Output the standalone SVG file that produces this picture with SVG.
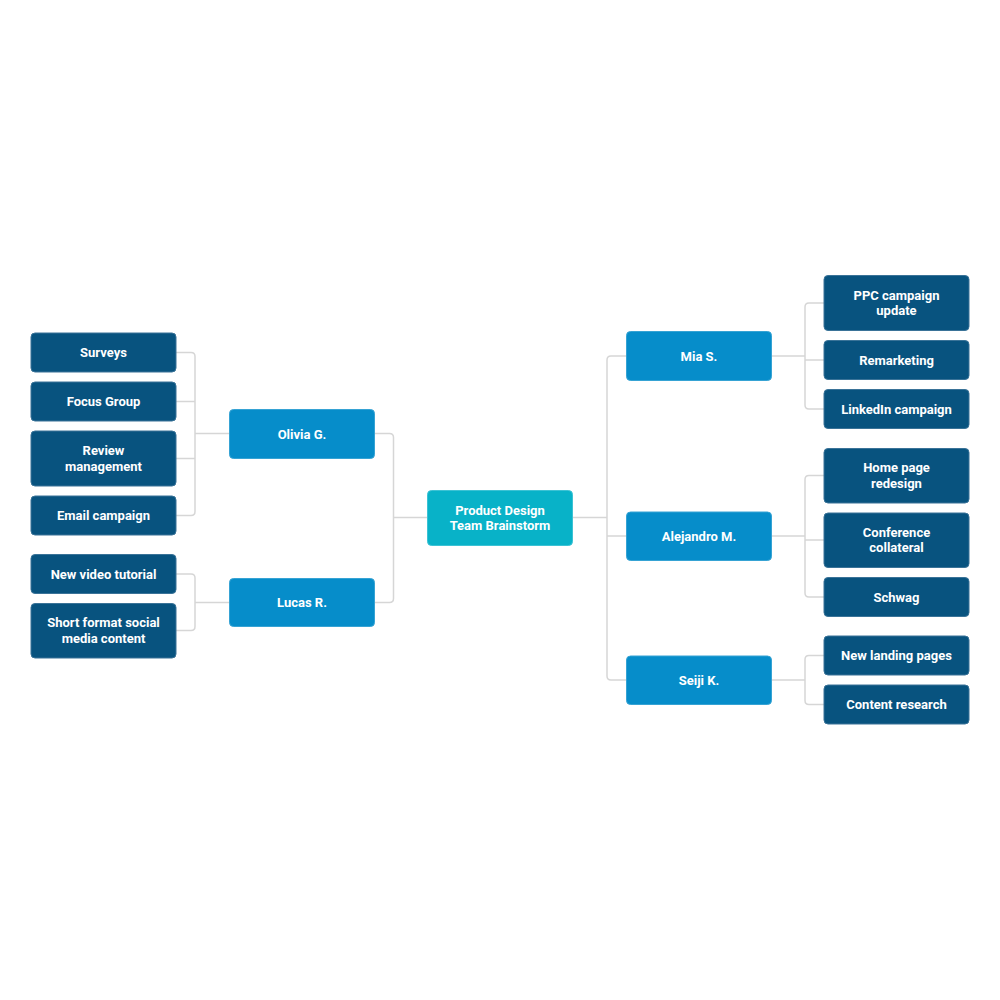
<svg xmlns="http://www.w3.org/2000/svg" width="1000" height="1000" viewBox="0 0 1000 1000">
<style>
.bg{fill:#ffffff}
.c0{fill:#08b2c8;stroke:#3cc2d4;stroke-width:1}
.c1{fill:#068dca;stroke:#36a3d4;stroke-width:1}
.c2{fill:#08537f;stroke:#3a7398;stroke-width:1}
.t{font-family:Roboto,"Liberation Sans",Arial,sans-serif;font-weight:bold;font-size:13px;fill:#ffffff;text-anchor:middle;dominant-baseline:central}
.ln{fill:none;stroke:#d6d6d6;stroke-width:1.5}
</style>
<rect class="bg" x="0" y="0" width="1000" height="1000"/>
<g id="connectors">
<path class="ln" d="M176,352.5 H191 Q195,352.5 195,356.5 V511.5 Q195,515.5 191,515.5 H176 M176,401.5 H195 M176,458.5 H195 M195,433.5 H229"/>
<path class="ln" d="M176,574 H191 Q195,574 195,578 V626.5 Q195,630.5 191,630.5 H176 M195,602.5 H229"/>
<path class="ln" d="M374,433.5 H389.5 Q393.5,433.5 393.5,437.5 V598.5 Q393.5,602.5 389.5,602.5 H374 M393.5,517.5 H427"/>
<path class="ln" d="M626,356 H611 Q607,356 607,360 V676 Q607,680 611,680 H626 M572,517.5 H607 M607,536 H626"/>
<path class="ln" d="M824,303 H809 Q805,303 805,307 V405 Q805,409 809,409 H824 M771,356 H805 M805,360 H824"/>
<path class="ln" d="M824,475.5 H809 Q805,475.5 805,479.5 V593 Q805,597 809,597 H824 M771,536 H805 M805,540 H824"/>
<path class="ln" d="M824,655.5 H809 Q805,655.5 805,659.5 V700.5 Q805,704.5 809,704.5 H824 M771,680 H805"/>
</g>
<g id="center">
<rect class="c0" x="427.5" y="490.5" width="145" height="55" rx="4"/>
<text class="t" x="500" y="510">Product Design</text>
<text class="t" x="500" y="525">Team Brainstorm</text>
</g>
<g id="olivia">
<rect class="c1" x="229.5" y="409.5" width="145" height="49" rx="4"/>
<text class="t" x="302" y="434">Olivia G.</text>
</g>
<g id="lucas">
<rect class="c1" x="229.5" y="578.5" width="145" height="48" rx="4"/>
<text class="t" x="302" y="602.5">Lucas R.</text>
</g>
<g id="mia">
<rect class="c1" x="626.5" y="331.5" width="145" height="49" rx="4"/>
<text class="t" x="699" y="356">Mia S.</text>
</g>
<g id="alejandro">
<rect class="c1" x="626.5" y="512" width="145" height="48.5" rx="4"/>
<text class="t" x="699" y="536">Alejandro M.</text>
</g>
<g id="seiji">
<rect class="c1" x="626.5" y="656" width="145" height="48.5" rx="4"/>
<text class="t" x="699" y="680">Seiji K.</text>
</g>
<g id="surveys">
<rect class="c2" x="31" y="333" width="145" height="39" rx="4"/>
<text class="t" x="103.5" y="352.5">Surveys</text>
</g>
<g id="focus-group">
<rect class="c2" x="31" y="382" width="145" height="39" rx="4"/>
<text class="t" x="103.5" y="401.5">Focus Group</text>
</g>
<g id="review">
<rect class="c2" x="31" y="431" width="145" height="55" rx="4"/>
<text class="t" x="103.5" y="450.5">Review</text>
<text class="t" x="103.5" y="466.5">management</text>
</g>
<g id="email">
<rect class="c2" x="31" y="496" width="145" height="39" rx="4"/>
<text class="t" x="103.5" y="515.5">Email campaign</text>
</g>
<g id="video">
<rect class="c2" x="31" y="554.5" width="145" height="39" rx="4"/>
<text class="t" x="103.5" y="574">New video tutorial</text>
</g>
<g id="short-format">
<rect class="c2" x="31" y="603.5" width="145" height="54.5" rx="4"/>
<text class="t" x="103.5" y="622.5">Short format social</text>
<text class="t" x="103.5" y="638.5">media content</text>
</g>
<g id="ppc">
<rect class="c2" x="824" y="275.5" width="145" height="55" rx="4"/>
<text class="t" x="896.5" y="295.5">PPC campaign</text>
<text class="t" x="896.5" y="310.5">update</text>
</g>
<g id="remarketing">
<rect class="c2" x="824" y="340.5" width="145" height="39" rx="4"/>
<text class="t" x="896.5" y="360">Remarketing</text>
</g>
<g id="linkedin">
<rect class="c2" x="824" y="389.5" width="145" height="39" rx="4"/>
<text class="t" x="896.5" y="409">LinkedIn campaign</text>
</g>
<g id="home-page">
<rect class="c2" x="824" y="448.5" width="145" height="54.5" rx="4"/>
<text class="t" x="896.5" y="467.5">Home page</text>
<text class="t" x="896.5" y="483.5">redesign</text>
</g>
<g id="conference">
<rect class="c2" x="824" y="513" width="145" height="54.5" rx="4"/>
<text class="t" x="896.5" y="532">Conference</text>
<text class="t" x="896.5" y="547.5">collateral</text>
</g>
<g id="schwag">
<rect class="c2" x="824" y="577.5" width="145" height="39" rx="4"/>
<text class="t" x="896.5" y="597">Schwag</text>
</g>
<g id="landing">
<rect class="c2" x="824" y="636" width="145" height="39" rx="4"/>
<text class="t" x="896.5" y="655.5">New landing pages</text>
</g>
<g id="content-research">
<rect class="c2" x="824" y="685" width="145" height="39" rx="4"/>
<text class="t" x="896.5" y="704.5">Content research</text>
</g>
</svg>
